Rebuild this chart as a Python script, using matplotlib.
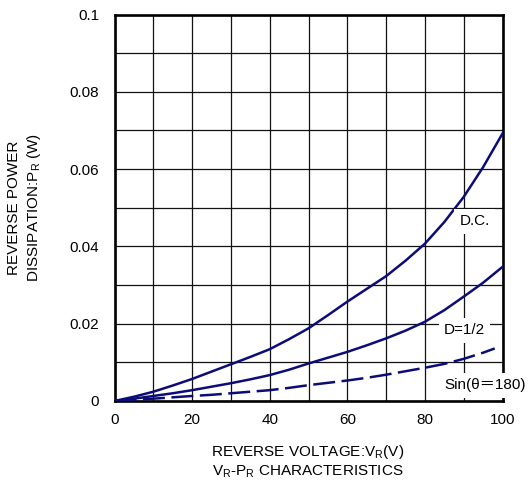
import matplotlib
matplotlib.use("Agg")
import matplotlib.pyplot as plt
import numpy as np

plt.rcParams['font.family'] = ['Liberation Sans', 'DejaVu Sans']
plt.rcParams['mathtext.fontset'] = 'custom'
plt.rcParams['mathtext.rm'] = 'Liberation Sans'
plt.rcParams['mathtext.it'] = 'Liberation Sans'

# Data
vr = [0, 5, 10, 15, 20, 25, 30, 35, 40, 45, 50, 55, 60, 65, 70, 75, 80, 85, 90, 95, 100]
dc = [0, 0.0011, 0.0024, 0.0040, 0.0057, 0.0076, 0.0095, 0.0114, 0.0134, 0.0160, 0.0188,
      0.0222, 0.0257, 0.0290, 0.0323, 0.0363, 0.0407, 0.0463, 0.0528, 0.0605, 0.0692]
d_half = [0, 0.0006, 0.0013, 0.0020, 0.0028, 0.0037, 0.0046, 0.0056, 0.0067, 0.0081, 0.0097,
          0.0112, 0.0127, 0.0144, 0.0162, 0.0182, 0.0205, 0.0235, 0.0270, 0.0306, 0.0347]
vr_sin = [0, 5, 10, 15, 20, 25, 30, 35, 40, 45, 50, 55, 60, 65, 70, 75, 80, 85, 90, 95, 98]
sin180 = [0, 0.0003, 0.0006, 0.00095, 0.0013, 0.0016, 0.0020, 0.0024, 0.0028, 0.0034, 0.0041,
          0.0047, 0.0053, 0.0060, 0.0068, 0.0077, 0.0086, 0.0096, 0.0109, 0.0125, 0.0136]
x_ticks = [0, 20, 40, 60, 80, 100]
y_ticks = [0, 0.02, 0.04, 0.06, 0.08, 0.1]
y_ticklabels = ["0", "0.02", "0.04", "0.06", "0.08", "0.1"]

fig = plt.figure(figsize=(5.28, 4.86), dpi=100)
ax = fig.add_axes([114.5/528, 1-401/486, 388/528, 386.5/486])

navy = '#0c0c78'
ax.plot(vr, dc, color=navy, lw=1.8, zorder=3)
ax.plot(vr, d_half, color=navy, lw=1.8, zorder=3)
ax.plot(vr_sin, sin180, color=navy, lw=1.8, dashes=(8.8, 2.6), zorder=3)

ax.set_xlim(0, 100)
ax.set_ylim(0, 0.1)
ax.set_xticks(np.arange(0, 101, 10), minor=True)
ax.set_yticks(np.arange(0, 0.1001, 0.01), minor=True)
ax.set_xticks(x_ticks)
ax.set_yticks(y_ticks)
ax.set_yticklabels(y_ticklabels)
ax.grid(True, which='both', color='#111111', lw=0.9, zorder=1)
ax.set_axisbelow(True)
ax.tick_params(which='both', length=0, labelsize=11)
ax.tick_params(axis='y', pad=11)
ax.tick_params(axis='x', pad=9)
for s in ax.spines.values():
    s.set_linewidth(1.9)
    s.set_zorder(2.5)

bbox = dict(facecolor='white', edgecolor='none', boxstyle='square,pad=0.35')
ax.text(92.8, 0.0465, "D.C.", fontsize=11, ha='center', va='center', bbox=bbox, zorder=5)
ax.text(90.2, 0.0183, "D=1/2", fontsize=11, ha='center', va='center', bbox=bbox, zorder=5)
ax.text(95.4, 0.0041, "Sin(θ＝180)", fontsize=11, ha='center', va='center', bbox=bbox,
        zorder=5, clip_on=False, family=['Liberation Sans', 'Noto Sans CJK JP'])

ax.set_ylabel("REVERSE POWER\nDISSIPATION:P$_\\mathregular{R}$ (W)", fontsize=11,
              labelpad=19, linespacing=1.3)
fig.text(308/528, 1-452/486, "REVERSE VOLTAGE:V$_\\mathregular{R}$(V)", fontsize=11,
         ha='center', va='center')
fig.text(308/528, 1-472/486, "V$_\\mathregular{R}$-P$_\\mathregular{R}$ CHARACTERISTICS",
         fontsize=11, ha='center', va='center')

fig.savefig("out.png", dpi=100)
